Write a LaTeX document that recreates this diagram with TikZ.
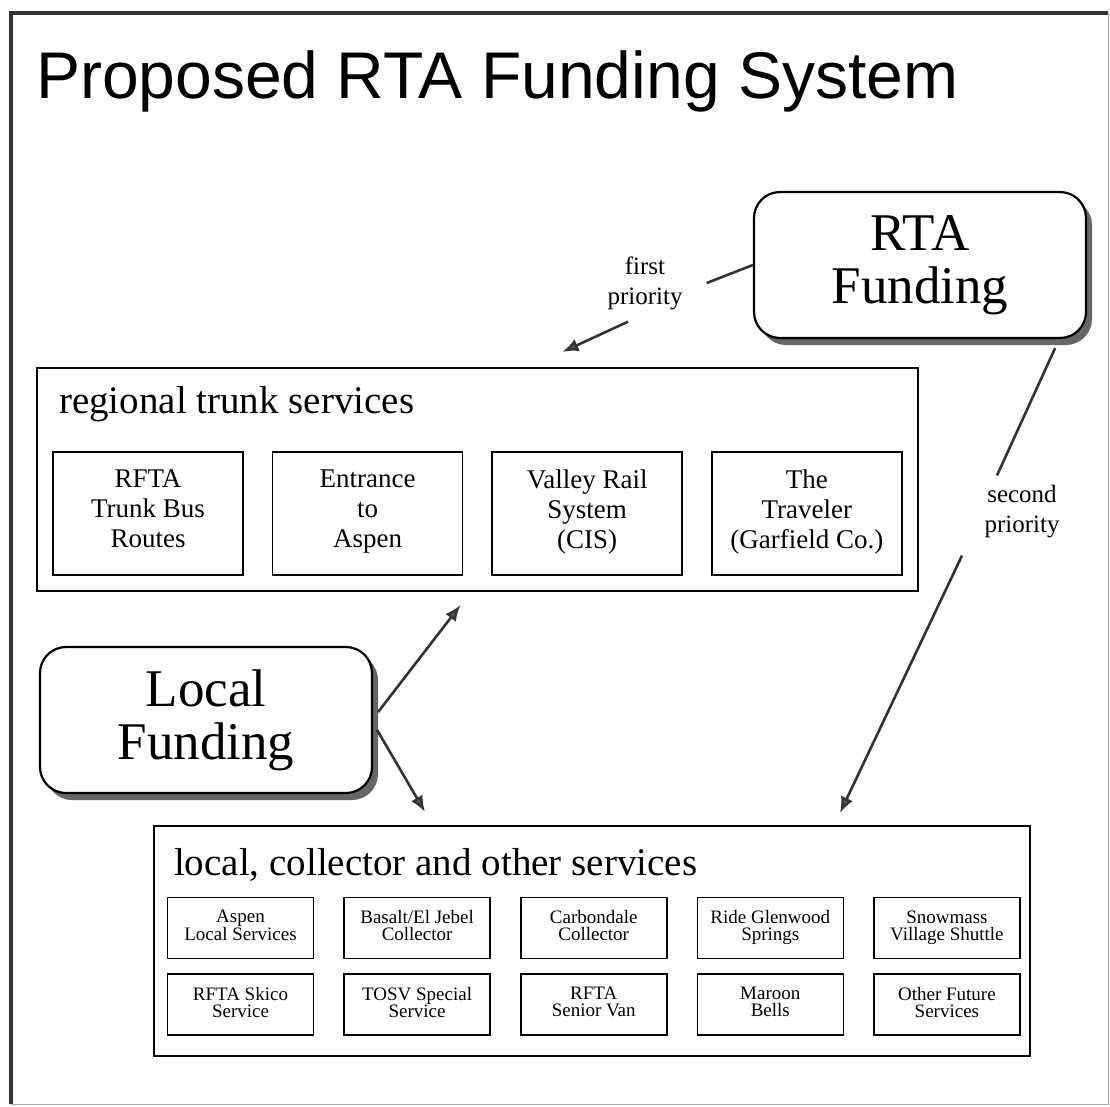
\documentclass[tikz,border=0pt]{standalone}
\usepackage{fontspec}
\setmainfont{Liberation Serif}
\newfontfamily\titlefont{Liberation Sans}
\usetikzlibrary{positioning, arrows.meta, shadows}

\begin{document}
\begin{tikzpicture}[x=1pt, y=-1pt,
    fund/.style={draw, line width=2.2pt, fill=white, rounded corners=26pt, minimum width=332pt, minimum height=146pt, align=center, font=\fontsize{53}{53}\selectfont, drop shadow={shadow xshift=6pt, shadow yshift=-7pt, fill=black!60, opacity=1}},
    group/.style={draw, line width=2.2pt, inner sep=0pt},
    grouptitle/.style={anchor=base west, inner sep=0pt, font=\fontsize{39}{39}\selectfont},
    trunksvc/.style={draw, line width=1.6pt, minimum width=190pt, minimum height=123pt, align=center, font=\fontsize{27}{30}\selectfont, execute at begin node=\strut, execute at end node=\strut},
    localsvc/.style={draw, line width=1.6pt, minimum width=146pt, minimum height=61pt, align=center, inner sep=1pt, font=\fontsize{19}{17}\selectfont, execute at begin node=\strut, execute at end node=\strut},
    prio/.style={align=center, inner sep=2pt, font=\fontsize{25}{30}\selectfont},
    link/.style={line width=2.6pt, draw=black!80},
    arrow/.style={link, -{Latex[length=16pt, width=13pt, fill=black!65]}}
]
    \useasboundingbox (0,0) rectangle (1110,1106);

    % Outer frame
    \draw[line width=4pt, black!80] (11,1104) -- (11,13) -- (1108,13);
    \draw[line width=1pt, black!35] (1108,13) -- (1108,1104) -- (11,1104);

    % Title
    \node[anchor=base west, inner sep=0pt, font=\titlefont\fontsize{66}{66}\selectfont] (Title) at (36,98) {Proposed RTA Funding System};

    % Funding sources
    \node[fund] (RTA) at (920,265) {RTA\\Funding};
    \node[fund] (LF) at (206,720) {Local\\Funding};

    % Regional trunk services
    \node[group, minimum width=881pt, minimum height=223pt] (Trunk) at (477.5,479.5) {};
    \node[grouptitle] (TrunkTitle) at ([shift={(23,47)}]Trunk.north west) {regional trunk services};
    \node[trunksvc] (T1) at (148,513.5) {RFTA\\Trunk Bus\\Routes};
    \node[trunksvc, right=28pt of T1] (T2) {Entrance\\to\\Aspen};
    \node[trunksvc, right=28pt of T2] (T3) {Valley Rail\\System\\(CIS)};
    \node[trunksvc, right=28pt of T3] (T4) {The\\Traveler\\(Garfield Co.)};

    % Local, collector and other services
    \node[group, minimum width=876pt, minimum height=230pt] (Local) at (592,941) {};
    \node[grouptitle] (LocalTitle) at ([shift={(21,51)}]Local.north west) {local, collector and other services};
    \node[localsvc] (S1) at (240.5,928) {Aspen\\Local Services};
    \node[localsvc, right=29pt of S1] (S2) {Basalt/El Jebel\\Collector};
    \node[localsvc, right=29pt of S2] (S3) {Carbondale\\Collector};
    \node[localsvc, right=29pt of S3] (S4) {Ride Glenwood\\Springs};
    \node[localsvc, right=29pt of S4] (S5) {Snowmass\\Village Shuttle};
    \node[localsvc, below=14pt of S1] (S6) {RFTA Skico\\Service};
    \node[localsvc, right=29pt of S6] (S7) {TOSV Special\\Service};
    \node[localsvc, right=29pt of S7] (S8) {RFTA\\Senior Van};
    \node[localsvc, right=29pt of S8] (S9) {Maroon\\Bells};
    \node[localsvc, right=29pt of S9] (S10) {Other Future\\Services};

    % Priority labels and arrow ends
    \node[prio] (FP) at (645,283) {first\\priority};
    \node[prio] (SP) at (1022,512) {second\\priority};
    \coordinate (FPtip) at ([shift={(85,-15)}]Trunk.north);
    \coordinate (SPtip) at ([shift={(248,-12)}]Local.north);
    \coordinate (UPtip) at ([shift={(-17,13)}]Trunk.south);
    \coordinate (DNtip) at ([shift={(-167,-13)}]Local.north);

    % RTA funding connectors
    \draw[link] (RTA.west) -- ([shift={(22,0)}]FP.east);
    \draw[arrow] ([shift={(-17,10)}]FP.south) -- (FPtip);
    \draw[link] ([shift={(-32,9)}]RTA.south east) -- ([shift={(-25,-8)}]SP.north);
    \draw[arrow] ([shift={(-60,15)}]SP.south) -- (SPtip);

    % Local funding connectors
    \draw[arrow] ([shift={(5,-8)}]LF.east) -- (UPtip);
    \draw[arrow] ([shift={(4,10)}]LF.east) -- (DNtip);

\end{tikzpicture}
\end{document}
